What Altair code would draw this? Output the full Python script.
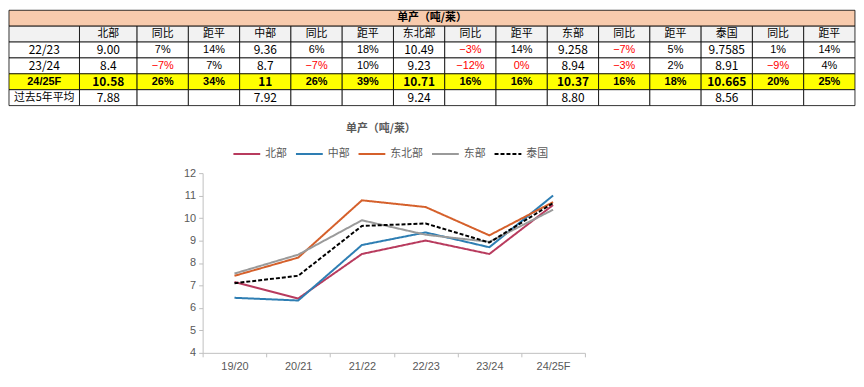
import altair as alt
import pandas as pd

# ---------------- data ----------------
regions = ["北部", "中部", "东北部", "东部", "泰国"]
seasons = ["19/20", "20/21", "21/22", "22/23", "23/24", "24/25F"]
north = [7.15, 6.42, 8.40, 9.00, 8.40, 10.58]
central = [6.45, 6.33, 8.80, 9.36, 8.70, 11.00]
northeast = [7.43, 8.24, 10.79, 10.49, 9.23, 10.71]
east = [7.53, 8.37, 9.90, 9.258, 8.94, 10.37]
thailand = [7.10, 7.43, 9.65, 9.7585, 8.91, 10.665]

table_title = "单产（吨/莱）"
header = ["", "北部", "同比", "距平", "中部", "同比", "距平", "东北部", "同比", "距平",
          "东部", "同比", "距平", "泰国", "同比", "距平"]
row_labels = ["22/23", "23/24", "24/25F", "过去5年平均"]
row_2223 = ["9.00", "7%", "14%", "9.36", "6%", "18%", "10.49", "-3%", "14%",
            "9.258", "-7%", "5%", "9.7585", "1%", "14%"]
row_2324 = ["8.4", "-7%", "7%", "8.7", "-7%", "10%", "9.23", "-12%", "0%",
            "8.94", "-3%", "2%", "8.91", "-9%", "4%"]
row_2425 = ["10.58", "26%", "34%", "11", "26%", "39%", "10.71", "16%", "16%",
            "10.37", "16%", "18%", "10.665", "20%", "25%"]
row_avg = ["7.88", "", "", "7.92", "", "", "9.24", "", "", "8.80", "", "",
           "8.56", "", ""]
red_cells = [("23/24", 9)]  # 0% shown in red

# ---------------- layout (style) ----------------
col_widths = [71, 58] + [51.64] * 14
TABLE_W = sum(col_widths)
edges = [0]
for w in col_widths:
    edges.append(edges[-1] + w)

row_keys = ["title", "header"] + row_labels
fills = {"title": "#F8CBAD", "header": "#F2F2F2", "22/23": "#FFFFFF",
         "23/24": "#FFFFFF", "24/25F": "#FFFF00", "过去5年平均": "#FFFFFF"}

cells = []
cells.append(dict(row="title", x0=0, x1=TABLE_W, xc=TABLE_W / 2, text=table_title,
                  color="#000000", fill=fills["title"], kind="title"))
for c in range(16):
    cells.append(dict(row="header", x0=edges[c], x1=edges[c + 1],
                      xc=(edges[c] + edges[c + 1]) / 2, text=header[c],
                      color="#000000", fill=fills["header"], kind="cjk"))
for lab, vals in zip(row_labels, [row_2223, row_2324, row_2425, row_avg]):
    bold = lab == "24/25F"
    cells.append(dict(row=lab, x0=edges[0], x1=edges[1], xc=(edges[0] + edges[1]) / 2,
                      text=lab, color="#000000", fill=fills[lab],
                      kind=("bpct" if bold else ("cjk" if lab == "过去5年平均" else "num"))))
    for i, v in enumerate(vals):
        c = i + 1
        red = v.startswith("-") or (lab, c) in red_cells
        isnum = (i % 3 == 0)
        kind = ("bnum" if isnum else "bpct") if bold else ("num" if isnum else "pct")
        cells.append(dict(row=lab, x0=edges[c], x1=edges[c + 1],
                          xc=(edges[c] + edges[c + 1]) / 2,
                          text=v.replace("-", "−"), color="#FF0000" if red else "#000000",
                          fill=fills[lab], kind=kind))
cells_df = pd.DataFrame(cells)

xs = alt.X("x0:Q", scale=alt.Scale(domain=[0, TABLE_W], nice=False, zero=False), axis=None)
ys = alt.Y("row:N", sort=row_keys, scale=alt.Scale(paddingInner=0, paddingOuter=0), axis=None)
base = alt.Chart(cells_df)
rects = base.mark_rect(stroke="#000000", strokeWidth=0.8).encode(
    x=xs, x2="x1:Q", y=ys, fill=alt.Fill("fill:N", scale=None))

def text_layer(kind, font, size, weight):
    return base.transform_filter(alt.datum.kind == kind).mark_text(
        font=font, fontSize=size, fontWeight=weight, baseline="middle", align="center"
    ).encode(
        x=alt.X("xc:Q", scale=alt.Scale(domain=[0, TABLE_W], nice=False, zero=False), axis=None),
        y=ys, text="text:N", color=alt.Color("color:N", scale=None))

table = alt.layer(
    rects,
    text_layer("title", "Noto Sans CJK SC", 11, "bold"),
    text_layer("cjk", "Noto Sans CJK SC", 11, "normal"),
    text_layer("num", "Noto Sans CJK SC", 12, "normal"),
    text_layer("pct", "Liberation Sans", 11, "normal"),
    text_layer("bnum", "Noto Sans CJK SC", 12, "bold"),
    text_layer("bpct", "Liberation Sans", 11, "bold"),
).properties(width=TABLE_W, height=96)

# ---------------- line chart ----------------
series = {"北部": north, "中部": central, "东北部": northeast, "东部": east, "泰国": thailand}
long = pd.DataFrame([
    {"season": s, "region": r, "value": v}
    for r, vals in series.items() for s, v in zip(seasons, vals)
])
colors = ["#B83B5E", "#2E7EB3", "#D5602B", "#9A9A9A", "#000000"]
dashes = [[1, 0], [1, 0], [1, 0], [1, 0], [4, 2]]
leg = alt.Legend(title=None, orient="none", legendX=225, legendY=130, direction="horizontal",
                 symbolType="stroke", symbolSize=729, symbolStrokeWidth=2,
                 labelFont="Noto Sans CJK SC", labelFontSize=11, labelColor="#595959",
                 labelOffset=4, columnPadding=5)

line = alt.Chart(long).mark_line(strokeWidth=2).encode(
    x=alt.X("season:N", sort=seasons, bandPosition=0.5,
            scale=alt.Scale(type="band", paddingInner=0, paddingOuter=0),
            axis=alt.Axis(title=None, labelAngle=0, tickBand="extent", tickSize=4,
                          domainColor="#BFBFBF", tickColor="#BFBFBF", labelColor="#595959",
                          labelFont="Liberation Sans", labelFontSize=11, labelPadding=4)),
    y=alt.Y("value:Q", scale=alt.Scale(domain=[4, 12], nice=False, zero=False),
            axis=alt.Axis(title=None, values=list(range(4, 13)), grid=False, tickSize=4,
                          domainColor="#BFBFBF", tickColor="#BFBFBF", labelColor="#595959",
                          labelFont="Liberation Sans", labelFontSize=11, labelPadding=3)),
    color=alt.Color("region:N", sort=regions, scale=alt.Scale(domain=regions, range=colors), legend=leg),
    strokeDash=alt.StrokeDash("region:N", sort=regions, scale=alt.Scale(domain=regions, range=dashes), legend=leg),
    order=alt.Order("season_idx:Q"),
).transform_calculate(
    season_idx="indexof(" + str(seasons) + ", datum.season)"
).properties(
    width=385, height=181,
    title=alt.Title(table_title, fontSize=11, color="#595959", font="Noto Sans CJK SC",
                    fontWeight="bold", anchor="middle", dx=-13, offset=33)
)

spacer = alt.Chart(pd.DataFrame({"a": [0]})).mark_point(opacity=0).encode(
    x=alt.X("a:Q", axis=None), y=alt.Y("a:Q", axis=None)
).properties(width=165, height=10)

chart = alt.vconcat(
    table,
    alt.hconcat(spacer, line, spacing=10),
    spacing=17,
).properties(padding=0).configure_view(strokeWidth=0)

chart.save("out.html", embed_options={"renderer": "svg", "actions": False})
